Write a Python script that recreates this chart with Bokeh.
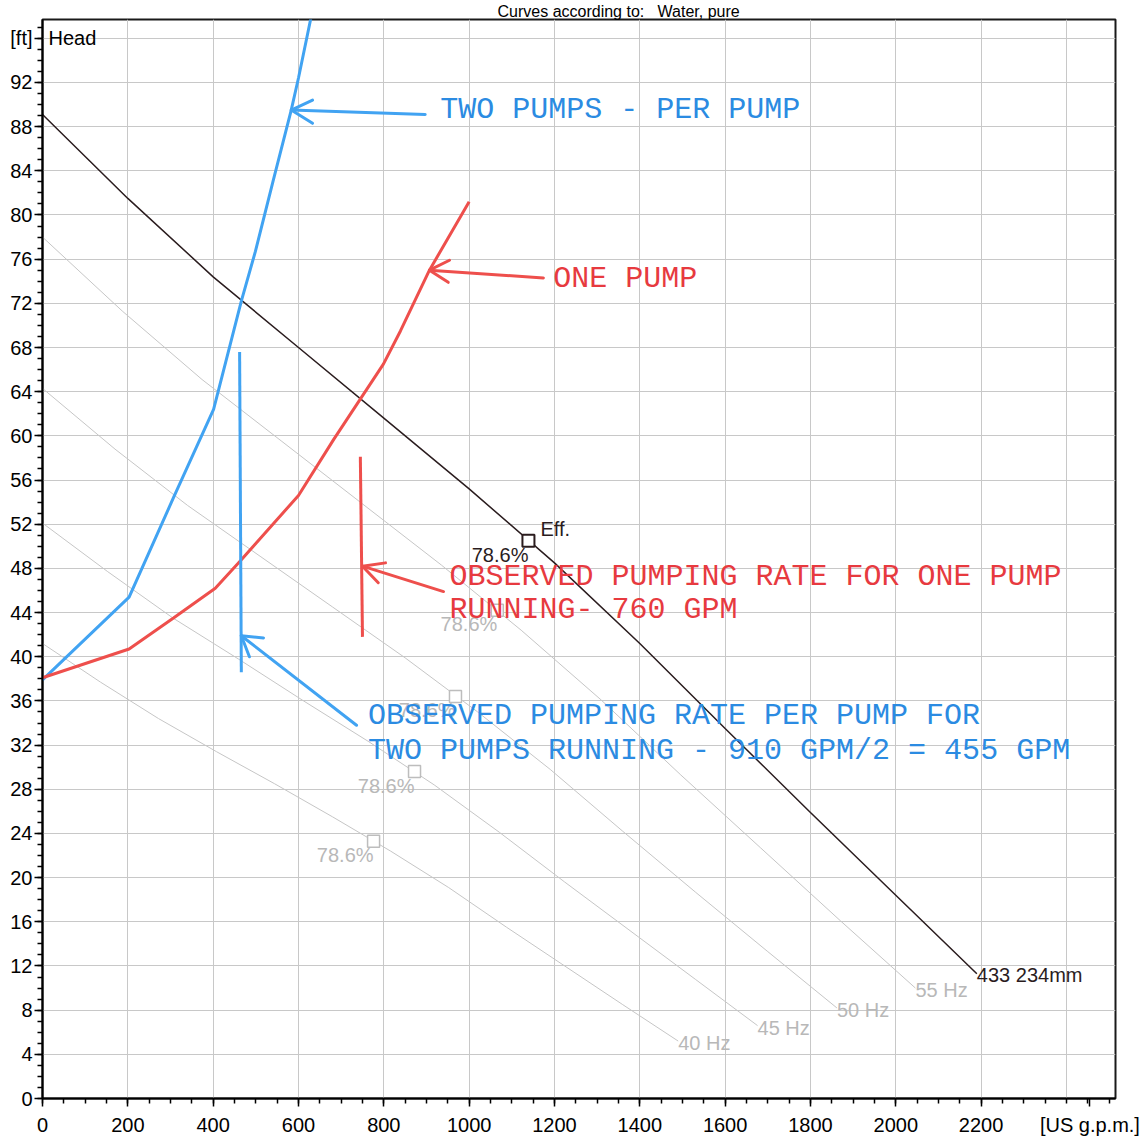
from bokeh.plotting import figure
from bokeh.models import FixedTicker, Label, ColumnDataSource
from bokeh.core.properties import value
from bokeh.embed import file_html
from bokeh.resources import INLINE

# ---------------- data ----------------
# full-speed pump curve (433 / 234 mm impeller), flow [US gpm] vs head [ft]
q_full = [0, 200, 400, 600, 800, 1000, 1200, 1400, 1600, 1800, 2000, 2190]
h_full = [89.1, 81.5, 74.4, 68.0, 61.6, 55.2, 48.5, 41.2, 33.5, 25.9, 18.4, 11.3]

# reduced-speed curves
q_55 = [0, 187, 374, 561, 748, 935, 1122, 1309, 1496, 1683, 1870, 2046]
h_55 = [78.0, 71.3, 65.1, 59.5, 53.9, 48.3, 42.4, 36.1, 29.3, 22.7, 16.1, 10.0]
q_50 = [0, 170, 340, 510, 680, 850, 1020, 1190, 1360, 1530, 1700, 1862]
h_50 = [64.3, 58.8, 53.7, 49.1, 44.5, 39.9, 35.0, 29.8, 24.2, 18.7, 13.3, 8.2]
q_45 = [0, 153, 306, 459, 612, 765, 918, 1071, 1224, 1377, 1530, 1676]
h_45 = [52.1, 47.7, 43.5, 39.8, 36.0, 32.3, 28.4, 24.1, 19.6, 15.2, 10.8, 6.6]
q_40 = [0, 136, 272, 408, 544, 680, 816, 952, 1088, 1224, 1360, 1490]
h_40 = [41.2, 37.7, 34.4, 31.4, 28.5, 25.5, 22.4, 19.1, 15.5, 12.0, 8.5, 5.2]
speed_labels = ["55 Hz", "50 Hz", "45 Hz", "40 Hz"]

# best-efficiency points (78.6 %)
eff_q = [1139, 1066, 968, 872, 776]
eff_h = [50.5, 44.2, 36.4, 29.6, 23.3]
eff_labels = ["78.6%", "78.6%", "78.6%", "78.6%", "78.6%"]

# hand-drawn system curves
q_two = [0, 203, 307, 401, 466, 499, 540, 583, 600, 638]
h_two = [37.9, 45.4, 54.4, 62.4, 72.2, 76.7, 83.0, 89.5, 92.4, 99.5]
q_one = [0, 203, 307, 405, 464, 600, 683, 799, 839, 907, 1000]
h_one = [38.1, 40.7, 43.5, 46.2, 48.7, 54.6, 59.7, 66.5, 69.5, 75.0, 81.2]

# observed operating flows (vertical marks)
obs_two_q = [462, 466]
obs_two_h = [67.6, 38.6]
obs_one_q = [745, 750]
obs_one_h = [58.1, 41.8]

# arrows: (tip, tail, wing1, wing2)
arrow_two_curve = [(583, 89.5), (897, 89.1), (633, 90.4), (633, 88.3)]
arrow_two_obs = [(466, 41.9), (736, 33.8), (518, 41.7), (485, 40.0)]
arrow_one_curve = [(907, 75.0), (1174, 74.3), (954, 75.9), (951, 73.9)]
arrow_one_obs = [(750, 48.2), (940, 45.9), (804, 48.5), (787, 46.7)]

# axis ticks
x_ticks = [0, 200, 400, 600, 800, 1000, 1200, 1400, 1600, 1800, 2000, 2200, 2455]
x_grid = [0, 200, 400, 600, 800, 1000, 1200, 1400, 1600, 1800, 2000, 2200, 2400]
y_ticks = [0, 4, 8, 12, 16, 20, 24, 28, 32, 36, 40, 44, 48, 52, 56, 60, 64, 68, 72, 76, 80, 84, 88, 92, 96]

# ---------------- styling ----------------
BLUE_L = "#41a3f2"
BLUE_T = "#2b8be2"
RED_L = "#ee4f4c"
RED_T = "#e73a3f"
GREY_L = "#c6c6c6"
GREY_T = "#b8b8b8"
BLACK_C = "#2a1c1e"
AX_FONT = value("Liberation Sans")
MONO = value("Liberation Mono")

p = figure(width=1142, height=1138, x_range=(0, 2515), y_range=(0, 97.7),
           output_backend="svg", toolbar_location=None,
           min_border_left=42, min_border_right=27, min_border_top=18, min_border_bottom=39)
p.background_fill_color = "white"
p.border_fill_color = "white"
p.outline_line_color = "#1a1a1a"
p.outline_line_width = 2

p.title.text = "Curves according to:\u00a0\u00a0 Water, pure"
p.title.text_font = "Liberation Sans"
p.title.text_font_size = "16px"
p.title.text_font_style = "normal"
p.title.text_color = "black"
p.title.align = "left"
p.title.offset = 455
p.title.standoff = 0

p.xaxis.ticker = FixedTicker(ticks=x_ticks, minor_ticks=list(range(0, 2551, 50)))
p.yaxis.ticker = FixedTicker(ticks=y_ticks, minor_ticks=list(range(0, 98)))
p.xgrid.ticker = FixedTicker(ticks=x_grid)
p.xaxis.major_label_overrides = {2455: "[US g.p.m.]"}
p.yaxis.major_label_overrides = {96: "[ft]"}
for ax in (p.xaxis, p.yaxis):
    ax.axis_line_width = 2
    ax.axis_line_color = "black"
    ax.major_tick_line_color = "black"
    ax.minor_tick_line_color = "black"
    ax.major_tick_line_width = 1.5
    ax.minor_tick_line_width = 1.5
    ax.major_tick_in = 0
    ax.major_tick_out = 8
    ax.minor_tick_in = 0
    ax.minor_tick_out = 5
    ax.major_label_text_font = "Liberation Sans"
    ax.major_label_text_font_size = "20px"
    ax.major_label_text_color = "black"
p.xaxis.major_label_standoff = 7
p.yaxis.major_label_standoff = 2
p.grid.grid_line_color = "#c8c8c8"
p.grid.grid_line_width = 1

# speed curves
for qs, hs in ((q_55, h_55), (q_50, h_50), (q_45, h_45), (q_40, h_40)):
    p.line(qs, hs, line_color=GREY_L, line_width=1)
end_q = [q_55[-1], q_50[-1], q_45[-1], q_40[-1]]
end_h = [h_55[-1], h_50[-1], h_45[-1], h_40[-1]]
p.text(x=end_q, y=end_h, text=speed_labels, text_font=AX_FONT, text_font_size="20px",
       text_color=GREY_T, text_align="left", text_baseline="middle", y_offset=2)

# full-speed curve
p.line(q_full, h_full, line_color=BLACK_C, line_width=1.5)
p.text(x=[q_full[-1]], y=[h_full[-1]], text=["433 234mm"], text_font=AX_FONT,
       text_font_size="20px", text_color=BLACK_C, text_align="left",
       text_baseline="middle", y_offset=1)

# efficiency markers
p.scatter(eff_q[1:], eff_h[1:], marker="square", size=12, fill_color="white",
          line_color="#bdbdbd", line_width=1.5)
p.scatter(eff_q[:1], eff_h[:1], marker="square", size=12, fill_color="white",
          line_color=BLACK_C, line_width=2)
p.text(x=eff_q[1:], y=eff_h[1:], text=eff_labels[1:], text_font=AX_FONT, text_font_size="20px",
       text_color=GREY_T, text_align="right", text_baseline="top", y_offset=3)
p.text(x=eff_q[:1], y=eff_h[:1], text=eff_labels[:1], text_font=AX_FONT, text_font_size="20px",
       text_color=BLACK_C, text_align="right", text_baseline="top", y_offset=3)
p.text(x=eff_q[:1], y=eff_h[:1], text=["Eff."], text_font=AX_FONT, text_font_size="20px",
       text_color=BLACK_C, text_align="left", text_baseline="bottom", x_offset=12, y_offset=-1)

# hand-drawn annotations
p.line(q_two, h_two, line_color=BLUE_L, line_width=3)
p.line(q_one, h_one, line_color=RED_L, line_width=3)
p.line(obs_two_q, obs_two_h, line_color=BLUE_L, line_width=3)
p.line(obs_one_q, obs_one_h, line_color=RED_L, line_width=3)


def arrow(a, color):
    tip, tail, w1, w2 = a
    xs = [[tail[0], tip[0]], [w1[0], tip[0], w2[0]]]
    ys = [[tail[1], tip[1]], [w1[1], tip[1], w2[1]]]
    p.multi_line(xs, ys, line_color=color, line_width=3, line_cap="round", line_join="round")


arrow(arrow_two_curve, BLUE_L)
arrow(arrow_two_obs, BLUE_L)
arrow(arrow_one_curve, RED_L)
arrow(arrow_one_obs, RED_L)

note_src = ColumnDataSource(dict(
    x=[932, 1197, 954, 954, 763, 763],
    y=[89.5, 74.2, 47.2, 44.2, 34.6, 31.5],
    t=["TWO PUMPS - PER PUMP", "ONE PUMP", "OBSERVED PUMPING RATE FOR ONE PUMP",
       "RUNNING- 760 GPM", "OBSERVED PUMPING RATE PER PUMP FOR",
       "TWO PUMPS RUNNING - 910 GPM/2 = 455 GPM"],
    c=[BLUE_T, RED_T, RED_T, RED_T, BLUE_T, BLUE_T],
))
p.text(x="x", y="y", text="t", text_color="c", source=note_src, text_font=MONO,
       text_font_size="30px", text_align="left", text_baseline="middle")

p.add_layout(Label(x=0, y=96, text="Head", x_offset=6, text_font="Liberation Sans",
                   text_font_size="20px", text_baseline="middle", text_color="black"))

open("out.html", "w").write(file_html(p, INLINE))
